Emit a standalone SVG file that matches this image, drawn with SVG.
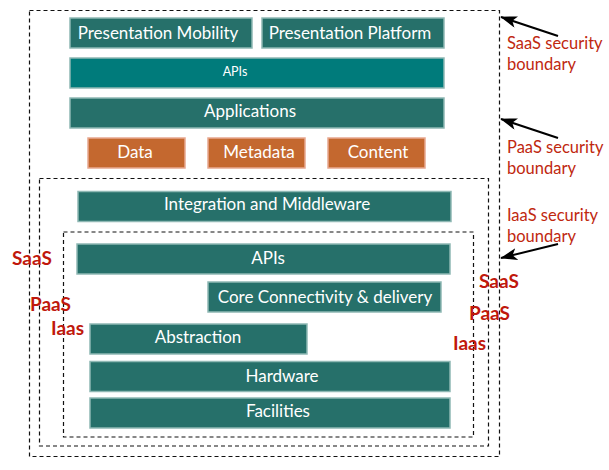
<svg xmlns="http://www.w3.org/2000/svg" width="609" height="470" viewBox="0 0 609 470">
<defs>
<style>
.b{fill:#26706a;stroke:#8fb8b4;stroke-width:1.5}
.a{fill:#007b7b;stroke:#8fb8b4;stroke-width:1.5}
.o{fill:#c4682f;stroke:#e8a890;stroke-width:1.5}
.t{font-family:Lato,"Open Sans",sans-serif;font-size:17px;fill:#fff;text-anchor:middle}
.s{font-size:12.5px}
.d{fill:none;stroke:#111;stroke-width:1.2;stroke-dasharray:4 3}
.r{font-family:Lato,"Open Sans",sans-serif;font-size:16.5px;fill:#c0280f}
.k{font-family:Lato,"Open Sans",sans-serif;font-size:19px;font-weight:bold;fill:#c0180c}
.ar{fill:none;stroke:#000;stroke-width:2}
</style>
<marker id="h" viewBox="0 0 10 7" refX="9.5" refY="3.5" markerWidth="8.5" markerHeight="6" orient="auto" markerUnits="strokeWidth">
<path d="M0,0 L10,3.5 L0,7 L2.5,3.5 z" fill="#000"/>
</marker>
</defs>
<g id="boundaries">
<rect class="d" x="29.5" y="10.5" width="470" height="446"/>
<rect class="d" x="39.5" y="178.5" width="449" height="267.5"/>
<rect class="d" x="63.5" y="232" width="410" height="205"/>
</g>
<g id="pres-mobility"><rect class="b" x="70" y="18" width="182" height="30"/><text class="t" x="158" y="39">Presentation Mobility</text></g>
<g id="pres-platform"><rect class="b" x="262" y="18" width="182" height="30"/><text class="t" x="350" y="39">Presentation Platform</text></g>
<g id="apis-top"><rect class="a" x="70" y="58" width="374" height="30"/><text class="t s" x="235" y="76">APIs</text></g>
<g id="applications"><rect class="b" x="70" y="98" width="374" height="30"/><text class="t" x="250" y="117">Applications</text></g>
<g id="data"><rect class="o" x="88" y="138" width="97" height="30"/><text class="t" x="135" y="158">Data</text></g>
<g id="metadata"><rect class="o" x="208" y="138" width="97" height="30"/><text class="t" x="259" y="158">Metadata</text></g>
<g id="content"><rect class="o" x="328" y="138" width="97" height="30"/><text class="t" x="378" y="158">Content</text></g>
<g id="integration"><rect class="b" x="78" y="191.5" width="373" height="30"/><text class="t" x="267" y="210">Integration and Middleware</text></g>
<g id="apis-low"><rect class="b" x="77" y="244" width="373" height="30"/><text class="t" x="268" y="264">APIs</text></g>
<g id="core"><rect class="b" x="208" y="282" width="233" height="30"/><text class="t" x="325" y="303">Core Connectivity &amp; delivery</text></g>
<g id="abstraction"><rect class="b" x="90" y="324" width="217" height="30"/><text class="t" x="198" y="343">Abstraction</text></g>
<g id="hardware"><rect class="b" x="90" y="361.5" width="360" height="30"/><text class="t" x="282" y="382">Hardware</text></g>
<g id="facilities"><rect class="b" x="90" y="398" width="360" height="30"/><text class="t" x="278" y="417">Facilities</text></g>
<g id="connectors">
<line class="ar" x1="558" y1="36" x2="501" y2="17" marker-end="url(#h)"/>
<line class="ar" x1="558" y1="138" x2="501" y2="119" marker-end="url(#h)"/>
<line class="ar" x1="558" y1="244" x2="501" y2="258" marker-end="url(#h)"/>
</g>
<g id="labels">
<text class="r" x="507" y="49">SaaS security</text>
<text class="r" x="507" y="70">boundary</text>
<text class="r" x="507" y="153">PaaS security</text>
<text class="r" x="507" y="174">boundary</text>
<text class="r" x="507" y="221">IaaS security</text>
<text class="r" x="507" y="242">boundary</text>
<text class="k" x="12" y="265">SaaS</text>
<text class="k" x="30" y="311">PaaS</text>
<text class="k" x="51" y="335">Iaas</text>
<text class="k" x="479" y="288">SaaS</text>
<text class="k" x="469" y="320">PaaS</text>
<text class="k" x="453" y="350">Iaas</text>
</g>
</svg>
